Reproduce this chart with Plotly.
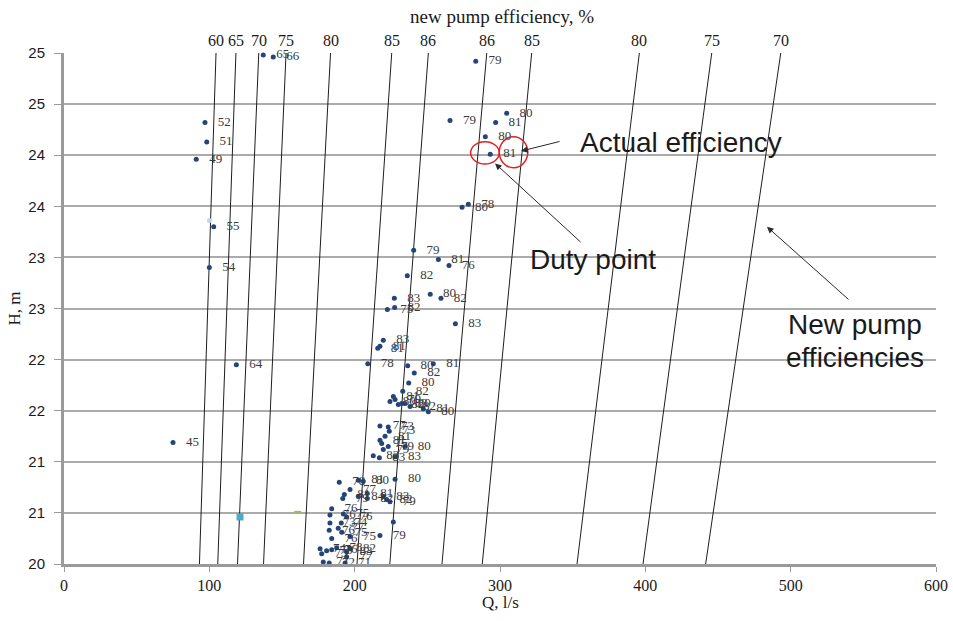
import plotly.graph_objects as go

# Measured operating points: flow Q (l/s), head H (m), actual efficiency (%)
q_points = [137.1, 144.0, 97.0, 98.2, 91.0, 103.0, 100.0, 118.6, 75.0,
            283.3, 304.6, 265.6, 297.0, 289.9, 293.3, 273.9, 278.2,
            240.6, 257.6, 264.9, 236.2, 227.3, 252.0, 259.4, 222.5, 227.5, 269.3,
            219.7, 217.4, 215.9, 209.0, 236.5, 254.1, 241.0, 237.2, 233.1,
            226.6, 227.8, 224.3, 230.0, 232.4, 234.6, 238.1, 247.2, 250.7,
            217.4, 223.1, 223.8, 220.9, 217.4, 218.6, 219.7, 223.1, 234.6,
            212.8, 217.0, 227.8,
            227.8, 202.5, 205.9, 189.4, 196.8, 192.9, 208.7, 208.7, 191.8,
            202.5, 219.7, 222.0, 224.3, 184.2, 183.0, 192.2, 194.5, 190.8,
            183.0, 182.5, 188.7, 191.1, 196.8, 184.2, 217.4, 176.2, 177.3,
            180.7, 184.2, 187.6, 178.4, 182.5, 194.5, 196.8, 194.5, 193.4, 226.6]
h_points = [24.98, 24.96, 24.32, 24.13, 23.96, 23.30, 22.90, 21.95, 21.19,
            24.92, 24.41, 24.34, 24.32, 24.18, 24.01, 23.49, 23.52,
            23.07, 22.98, 22.92, 22.82, 22.60, 22.64, 22.60, 22.49, 22.51, 22.35,
            22.19, 22.13, 22.11, 21.96, 21.94, 21.96, 21.87, 21.77, 21.69,
            21.64, 21.61, 21.59, 21.56, 21.57, 21.57, 21.54, 21.52, 21.49,
            21.35, 21.34, 21.30, 21.25, 21.21, 21.18, 21.12, 21.15, 21.15,
            21.06, 21.04, 21.05,
            20.83, 20.82, 20.81, 20.80, 20.73, 20.68, 20.69, 20.64, 20.64,
            20.66, 20.66, 20.63, 20.61, 20.54, 20.48, 20.49, 20.46, 20.40,
            20.40, 20.33, 20.35, 20.31, 20.27, 20.25, 20.28, 20.15, 20.10,
            20.13, 20.14, 20.16, 20.02, 20.01, 20.12, 20.15, 20.07, 20.01, 20.41]
eff_labels = ["65", "66", "52", "51", "49", "55", "54", "64", "45",
              "79", "80", "79", "81", "80", "81", "80", "78",
              "79", "81", "76", "82", "83", "80", "82", "75", "82", "83",
              "83", "81", "81", "78", "80", "81", "82", "80", "82",
              "81", "79", "80", "82", "83", "80", "82", "81", "80",
              "77", "73", "73", "81", "81", "75", "79", "79", "80",
              "83", "83", "83",
              "80", "81", "80", "78", "77", "81", "81", "82", "79",
              "84", "83", "82", "79", "76", "76", "75", "76", "74",
              "73", "76", "77", "75", "75", "76", "79", "74", "73",
              "75", "76", "78", "71", "72", "83", "82", "77", "71", ""]

# Duty point of the existing pump
duty_q, duty_h = 293.3, 24.01

# Odd extra readings from other series
other_q = [121.1, 160.8, 100.0]
other_h = [20.46, 20.51, 23.36]
other_colors = ["#4bacc6", "#9bbb59", "#c5d5ea"]
other_symbols = ["square", "line-ew-open", "circle"]
other_sizes = [5, 5, 3]

# Iso-efficiency lines of the new pump: Q at H = 20 m and at H = 25 m
iso_labels = ["60", "65", "70", "75", "80", "85", "86", "86", "85", "80", "75", "70"]
iso_q_bottom = [93.2, 105.8, 119.4, 137.3, 164.8, 201.6, 224.2, 260.1, 287.8, 353.0, 398.4, 441.5]
iso_q_top = [104.6, 118.3, 134.0, 152.8, 183.4, 225.5, 250.7, 290.9, 321.8, 395.9, 445.7, 493.2]
h_min, h_max = 20, 25

# Axis ticks
x_ticks = [0, 100, 200, 300, 400, 500, 600]
y_ticks = [20, 20.5, 21, 21.5, 22, 22.5, 23, 23.5, 24, 24.5, 25]
y_tick_text = ["20", "21", "21", "22", "22", "23", "23", "24", "24", "25", "25"]

SERIF = "Liberation Serif, Times New Roman, serif"
SANS = "Liberation Sans, Arial, sans-serif"
INK = "#1a1a1a"

fig = go.Figure()

# iso-efficiency lines
line_x, line_y = [], []
for qb, qt in zip(iso_q_bottom, iso_q_top):
    line_x += [qb, qt, None]
    line_y += [h_min, h_max, None]
fig.add_trace(go.Scatter(x=line_x, y=line_y, mode="lines",
                         line=dict(color="#1e1e1e", width=1),
                         hoverinfo="skip", showlegend=False))

# other series
for q, h, c, s, sz in zip(other_q, other_h, other_colors, other_symbols, other_sizes):
    fig.add_trace(go.Scatter(x=[q], y=[h], mode="markers",
                             marker=dict(color=c, size=sz, symbol=s,
                                         line=dict(color=c, width=2)),
                             showlegend=False))

# measured points
fig.add_trace(go.Scatter(x=q_points, y=h_points, mode="markers",
                         marker=dict(color="#24457a", size=5),
                         text=eff_labels,
                         hovertemplate="Q=%{x}<br>H=%{y}<br>η=%{text}%<extra></extra>",
                         cliponaxis=False, showlegend=False))
# efficiency labels, set off to the right of each point
fig.add_trace(go.Scatter(x=q_points, y=h_points, mode="markers+text",
                         marker=dict(color="rgba(0,0,0,0)", size=19),
                         text=eff_labels, textposition="middle right",
                         textfont=dict(family=SERIF, size=13, color="#3a3a3a"),
                         cliponaxis=False, hoverinfo="skip", showlegend=False))

annotations = []
# labels above each iso-efficiency line
for lab, qt in zip(iso_labels, iso_q_top):
    annotations.append(dict(x=qt, y=h_max, xref="x", yref="y", text=lab,
                            showarrow=False, yanchor="middle", yshift=13,
                            font=dict(family=SERIF, size=16, color=INK)))
annotations.append(dict(x=0.502, y=1.0724, xref="paper", yref="paper",
                        text="new pump efficiency, %", showarrow=False,
                        xanchor="center", yanchor="middle",
                        font=dict(family=SERIF, size=19, color=INK)))
# axis titles
annotations.append(dict(x=0.5, y=-0.0744, xref="paper", yref="paper",
                        text="Q, l/s", showarrow=False,
                        xanchor="center", yanchor="middle",
                        font=dict(family=SERIF, size=17, color=INK)))
annotations.append(dict(x=-0.0562, y=0.5, xref="paper", yref="paper",
                        text="H, m", showarrow=False, textangle=-90,
                        xanchor="center", yanchor="middle",
                        font=dict(family=SERIF, size=17, color=INK)))

# callouts
call_font = dict(family=SANS, size=28, color=INK)
annotations += [
    dict(x=353.7, y=24.12, xref="x", yref="y", text="Actual efficiency",
         showarrow=False, xanchor="left", yanchor="middle", font=call_font),
    dict(x=319.3, y=22.975, xref="x", yref="y", text="Duty point",
         showarrow=False, xanchor="left", yanchor="middle", font=call_font),
    dict(x=544.3, y=22.34, xref="x", yref="y", text="New pump",
         showarrow=False, xanchor="center", yanchor="middle", font=call_font),
    dict(x=544.3, y=22.025, xref="x", yref="y", text="efficiencies",
         showarrow=False, xanchor="center", yanchor="middle", font=call_font),
]
arrow_style = dict(xref="x", yref="y", text="", showarrow=True, arrowhead=2,
                   arrowsize=1.3, arrowwidth=1, arrowcolor="#2a2a2a",
                   standoff=0, startstandoff=0)
annotations += [
    dict(x=duty_q + 21.2, y=duty_h + 0.03, ax=40, ay=-10, **arrow_style),
    dict(x=duty_q + 3.3, y=duty_h - 0.09, ax=87, ay=80, **arrow_style),
    dict(x=483.7, y=23.30, ax=83, ay=74, **arrow_style),
]

shapes = [
    # ring round the duty point
    dict(type="circle", xref="x", yref="y",
         x0=duty_q - 13.5, x1=duty_q + 6.2, y0=duty_h - 0.096, y1=duty_h + 0.122,
         line=dict(color="#e02020", width=1.5)),
    # ring round its efficiency label
    dict(type="circle", xref="x", yref="y",
         x0=duty_q + 6.2, x1=duty_q + 25.8, y0=duty_h - 0.132, y1=duty_h + 0.171,
         line=dict(color="#e02020", width=1.5)),
]

fig.update_layout(
    width=953, height=621,
    margin=dict(l=64, r=17, t=53, b=57),
    paper_bgcolor="white", plot_bgcolor="white",
    annotations=annotations, shapes=shapes,
    showlegend=False,
)
fig.update_xaxes(range=[0, 600], tickvals=x_ticks, showgrid=False, zeroline=False,
                 automargin=False,
                 showline=True, linecolor="#9a9a9a", linewidth=3,
                 ticks="outside", ticklen=5, tickcolor="#9a9a9a", tickwidth=1,
                 tickfont=dict(family=SERIF, size=16, color=INK))
fig.update_yaxes(range=[20, 25], tickvals=y_ticks, ticktext=y_tick_text,
                 showgrid=True, gridcolor="#ababab", gridwidth=2, zeroline=False,
                 automargin=False,
                 showline=True, linecolor="#9a9a9a", linewidth=3,
                 ticks="outside", ticklen=7, tickcolor="#9a9a9a", tickwidth=1,
                 ticklabelstandoff=6,
                 tickfont=dict(family=SANS, size=15, color=INK))

fig.write_html("out.html")
